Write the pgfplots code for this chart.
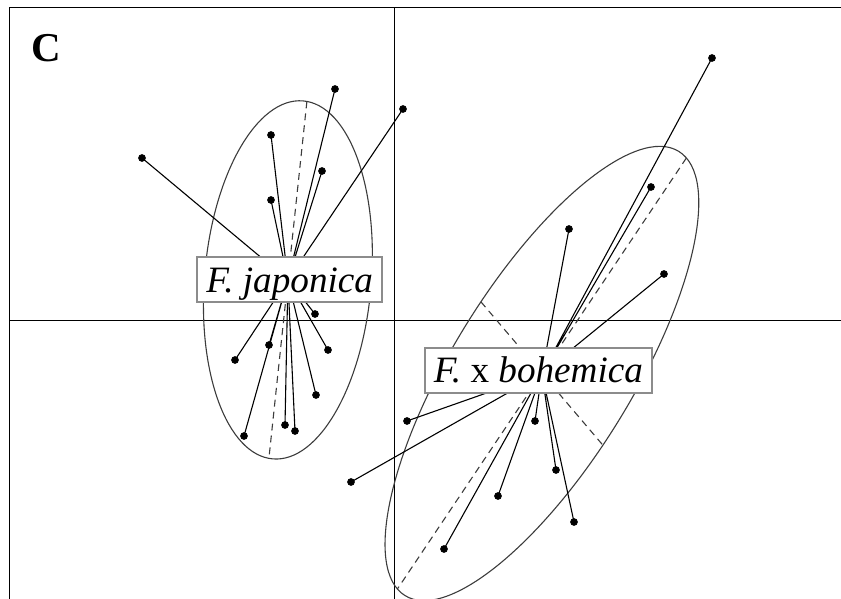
\documentclass[border=0pt]{standalone}
\usepackage{fontspec}
\setmainfont{Liberation Serif}
\usepackage{pgfplots}
\pgfplotsset{compat=1.18}
\definecolor{ellgray}{RGB}{60,60,60}
\definecolor{boxgray}{RGB}{140,140,140}

\begin{document}
\begin{tikzpicture}
\begin{axis}[
    scale only axis,
    width=415.75bp, height=295.85bp,
    xmin=-3.852, xmax=4.463,
    ymin=-2.783, ymax=3.134,
    hide axis,
]
% axes through the origin
\addplot[black, line width=0.65bp] coordinates {(-3.852,0) (4.463,0)};
\addplot[black, line width=0.65bp] coordinates {(0,-2.783) (0,3.134)};

% inertia ellipses
\draw[ellgray, line width=0.55bp, rotate around={85.17:(axis cs:-1.068,0.408)}]
    (axis cs:-1.068,0.408) ellipse[x radius=90.16pt, y radius=41.85pt];
\draw[ellgray, line width=0.55bp, rotate around={58.37:(axis cs:1.472,-0.528)}]
    (axis cs:1.472,-0.528) ellipse[x radius=130.94pt, y radius=45.21pt];

% ellipse axes
\addplot[ellgray, line width=0.55bp, dash pattern=on 3.5bp off 2.5bp]
    coordinates {(-0.878,2.193) (-1.258,-1.377)};
\addplot[ellgray, line width=0.55bp, dash pattern=on 3.5bp off 2.5bp]
    coordinates {(-1.891,0.562) (-0.245,0.254)};
\addplot[ellgray, line width=0.55bp, dash pattern=on 3.5bp off 2.5bp]
    coordinates {(2.917,1.627) (0.027,-2.683)};
\addplot[ellgray, line width=0.55bp, dash pattern=on 3.5bp off 2.5bp]
    coordinates {(0.862,0.189) (2.082,-1.245)};

% stars: F. japonica
\addplot[black, line width=0.55bp] coordinates {
    (-1.068,0.408) (-2.527,1.627) (-1.068,0.408) (-0.597,2.317)
    (-1.068,0.408) (0.083,2.117)  (-1.068,0.408) (-1.237,1.857)
    (-1.068,0.408) (-0.727,1.497) (-1.068,0.408) (-1.237,1.207)
    (-1.068,0.408) (-0.797,0.067) (-1.068,0.408) (-1.597,-0.393)
    (-1.068,0.408) (-1.257,-0.243) (-1.068,0.408) (-0.667,-0.293)
    (-1.068,0.408) (-0.787,-0.743) (-1.068,0.408) (-1.097,-1.043)
    (-1.068,0.408) (-0.997,-1.103) (-1.068,0.408) (-1.507,-1.153)
};
% stars: F. x bohemica
\addplot[black, line width=0.55bp] coordinates {
    (1.472,-0.528) (3.173,2.627)  (1.472,-0.528) (2.563,1.337)
    (1.472,-0.528) (1.743,0.917)  (1.472,-0.528) (2.693,0.467)
    (1.472,-0.528) (0.123,-1.003) (1.472,-0.528) (-0.437,-1.613)
    (1.472,-0.528) (1.403,-1.003) (1.472,-0.528) (1.613,-1.493)
    (1.472,-0.528) (1.033,-1.753) (1.472,-0.528) (1.793,-2.013)
    (1.472,-0.528) (0.493,-2.283)
};

% individuals
\addplot[only marks, mark=*, mark size=1.7bp, black] coordinates {
    (-2.527,1.627) (-0.597,2.317) (0.083,2.117) (-1.237,1.857)
    (-0.727,1.497) (-1.237,1.207) (-0.797,0.067) (-1.597,-0.393)
    (-1.257,-0.243) (-0.667,-0.293) (-0.787,-0.743) (-1.097,-1.043)
    (-0.997,-1.103) (-1.507,-1.153)
};
\addplot[only marks, mark=*, mark size=1.7bp, black] coordinates {
    (3.173,2.627) (2.563,1.337) (1.743,0.917) (2.693,0.467)
    (0.123,-1.003) (-0.437,-1.613) (1.403,-1.003) (1.613,-1.493)
    (1.033,-1.753) (1.793,-2.013) (0.493,-2.283)
};

% group labels
\node[fill=white, draw=boxgray, line width=1bp, inner xsep=4.5bp, inner ysep=0pt,
      text height=17.3bp, text depth=5.2bp, font=\fontsize{18.6bp}{20bp}\selectfont]
      at (axis cs:-1.05,0.407) {\textit{F. japonica}};
\node[fill=white, draw=boxgray, line width=1bp, inner xsep=4.5bp, inner ysep=0pt,
      text height=17.3bp, text depth=5.2bp, font=\fontsize{18.6bp}{20bp}\selectfont]
      at (axis cs:1.438,-0.50) {\textit{F.} x \textit{bohemica}};

\node[anchor=base west, inner sep=0pt, font=\fontsize{20.5bp}{22bp}\selectfont\bfseries]
      at (axis cs:-3.64,2.59) {C};
\end{axis}
\draw[black, line width=0.65bp] (current axis.south west) -- (current axis.north west)
    -- (current axis.north east);
\pgfresetboundingbox
\path[use as bounding box] ([xshift=-4.75bp,yshift=3.65bp]current axis.north west)
    rectangle (current axis.south east);
\end{tikzpicture}
\end{document}
